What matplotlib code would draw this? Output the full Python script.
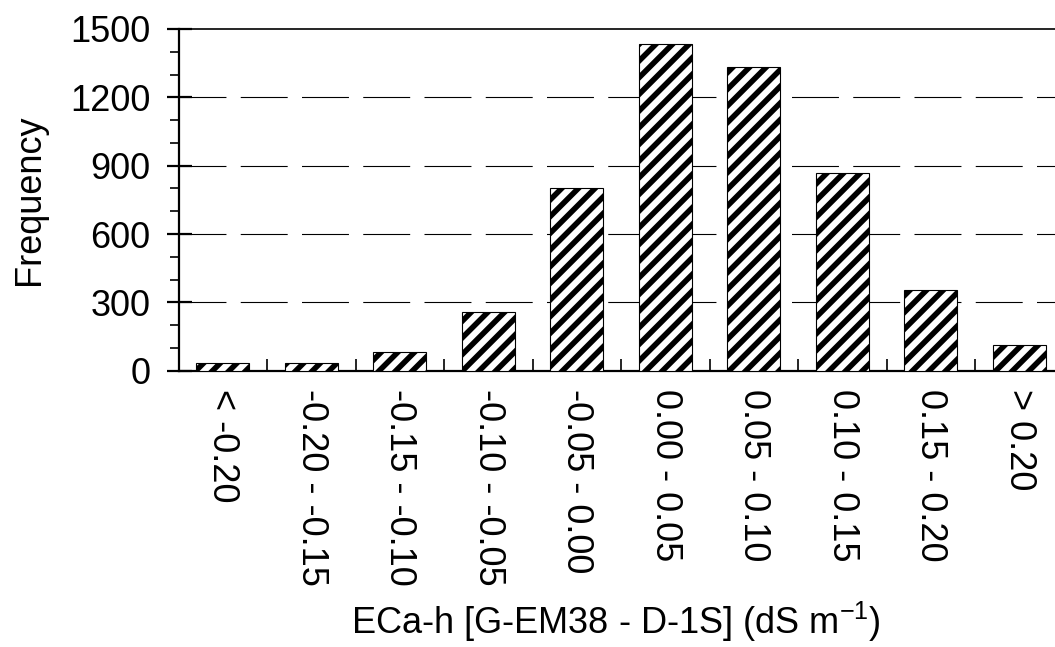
import numpy as np
import matplotlib
matplotlib.use("Agg")
import matplotlib.pyplot as plt
from matplotlib.ticker import MultipleLocator, FixedLocator

plt.rcParams['font.family'] = ['Liberation Sans', 'DejaVu Sans']
plt.rcParams['hatch.linewidth'] = 4.0
plt.rcParams['hatch.color'] = 'black'

# class labels and counts
categories = ["< -0.20", "-0.20 - -0.15", "-0.15 - -0.10", "-0.10 - -0.05",
              "-0.05 - 0.00", "0.00 - 0.05", "0.05 - 0.10", "0.10 - 0.15",
              "0.15 - 0.20", "> 0.20"]
counts = [35, 35, 80, 258, 800, 1433, 1332, 868, 356, 115]
y_ticks = [0, 300, 600, 900, 1200, 1500]

fig = plt.figure(figsize=(10.55, 6.47), dpi=100)
W, H = 1055, 647
left, right, top, bottom = 178.5, 1063.5, 29, 370.7
ax = fig.add_axes([left / W, 1 - bottom / H, (right - left) / W, (bottom - top) / H])

x = np.arange(len(categories))
ax.bar(x, counts, width=0.6, color='white', edgecolor='black', linewidth=0.8,
       hatch='//', zorder=3)

ax.set_xlim(-0.5, len(categories) - 0.5)
ax.set_ylim(0, 1500)

# y axis
ax.set_yticks(y_ticks)
ax.yaxis.set_minor_locator(MultipleLocator(100))
ax.tick_params(axis='y', which='major', direction='inout', length=18, width=1.6,
               labelsize=26, pad=11)
ax.tick_params(axis='y', which='minor', direction='out', length=6.5, width=1.2)

# x axis: labels at class centres, tick marks at class boundaries
ax.set_xticks(x)
ax.set_xticklabels(categories, rotation=-90, ha='center', va='top')
ax.xaxis.set_minor_locator(FixedLocator(x[:-1] + 0.5))
ax.tick_params(axis='x', which='major', length=0, labelsize=26, pad=13)
ax.tick_params(axis='x', which='minor', direction='in', length=9, width=1.2)

# dashed grid
for yv in y_ticks[1:-1]:
    ax.axhline(yv, color='black', linewidth=0.8, zorder=1,
               dashes=(33.8 / 0.8, 10.3 / 0.8))

for s in ['left', 'bottom']:
    ax.spines[s].set_linewidth(1.6)
ax.spines['top'].set_linewidth(1.2)
ax.spines['right'].set_visible(False)

fig.text(29 / W, 1 - 200 / H, 'Frequency', rotation=90, ha='center', va='center',
         fontsize=26)
fig.text(616 / W, 1 - 634 / H, r'ECa-h [G-EM38 - D-1S] (dS m$\mathregular{^{-1}}$)',
         ha='center', va='baseline', fontsize=26)

fig.savefig('out.png', dpi=100)
